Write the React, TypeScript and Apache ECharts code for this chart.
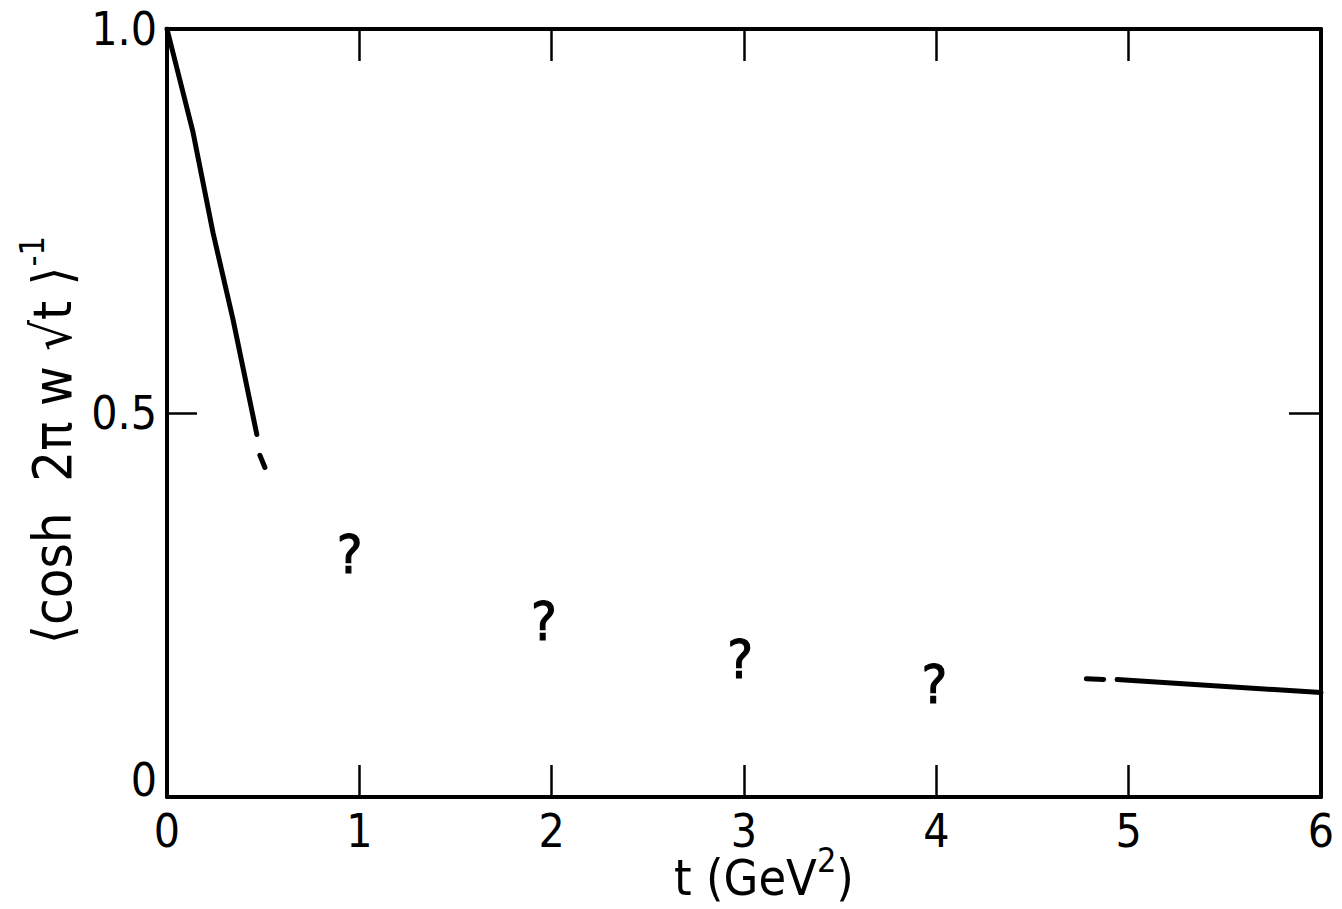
import React, { useEffect, useRef } from "react";
import * as echarts from "echarts";

const FONT = "'Liberation Sans Narrow', 'DejaVu Sans Condensed', 'Liberation Sans', sans-serif";

// Main solid curve near t = 0 (t, value)
const curveLowT: [number, number][] = [
  [0, 1.0],
  [0.135, 0.866],
  [0.239, 0.735],
  [0.343, 0.622],
  [0.467, 0.472],
];
// Dash continuing the low-t curve
const dashLowT: [number, number][] = [
  [0.483, 0.445],
  [0.509, 0.429],
];
// Dash preceding the high-t curve
const dashHighT: [number, number][] = [
  [4.78, 0.154],
  [4.87, 0.153],
];
// Solid curve at high t
const curveHighT: [number, number][] = [
  [4.94, 0.153],
  [6.0, 0.136],
];
// Unknown values marked with "?"
const unknownPoints: [number, number][] = [
  [0.95, 0.316],
  [1.96, 0.228],
  [2.98, 0.179],
  [3.99, 0.146],
];
const xTicks = [0, 1, 2, 3, 4, 5, 6];
const yTicks = [0, 0.5, 1.0];

export default function App() {
  const ref = useRef<HTMLDivElement>(null);
  useEffect(() => {
    if (!ref.current) return;
    const chart = echarts.init(ref.current, undefined, { renderer: "svg" });
    const lineStyle = { color: "#000", width: 5, cap: "round" as const };
    const axisLine = { show: true, onZero: false, lineStyle: { color: "#000", width: 4 } };
    const tick = { show: true, inside: true, length: 32, lineStyle: { color: "#000", width: 2.5 } };
    chart.setOption({
      animation: false,
      backgroundColor: "#fff",
      grid: { left: 167, right: 21, top: 29, bottom: 112, containLabel: false, outerBoundsMode: "none" },
      xAxis: [
        {
          type: "value",
          min: xTicks[0],
          max: xTicks[xTicks.length - 1],
          interval: 1,
          position: "bottom",
          axisLine,
          axisTick: tick,
          splitLine: { show: false },
          axisLabel: {
            show: true,
            margin: 14,
            fontFamily: FONT,
            fontSize: 46,
            lineHeight: 40,
            color: "#000",
            formatter: (v: number) => String(v),
          },
          name: "{m|t (GeV}{sup|2}{m|)}",
          nameLocation: "middle",
          nameGap: 46,
          nameMoveOverlap: false,
          nameTextStyle: {
            color: "#000",
            padding: [0, 0, 0, 40],
            rich: {
              m: { fontFamily: FONT, fontSize: 50, color: "#000", lineHeight: 60, verticalAlign: "bottom" },
              sup: { fontFamily: FONT, fontSize: 34, color: "#000", lineHeight: 60, verticalAlign: "top" },
            },
          },
        },
        {
          type: "value",
          min: xTicks[0],
          max: xTicks[xTicks.length - 1],
          interval: 1,
          position: "top",
          axisLine,
          axisTick: tick,
          splitLine: { show: false },
          axisLabel: { show: false },
        },
      ],
      yAxis: [
        {
          type: "value",
          min: yTicks[0],
          max: yTicks[yTicks.length - 1],
          interval: 0.5,
          position: "left",
          axisLine,
          axisTick: { ...tick, length: 30 },
          splitLine: { show: false },
          axisLabel: {
            show: true,
            margin: 10,
            fontFamily: FONT,
            fontSize: 46,
            color: "#000",
            formatter: (v: number) => (v === 0 ? "{z|0}" : v.toFixed(1)),
            rich: {
              z: { fontFamily: FONT, fontSize: 46, color: "#000", padding: [0, 0, 34, 0] },
            },
          },
        },
        {
          type: "value",
          min: yTicks[0],
          max: yTicks[yTicks.length - 1],
          interval: 0.5,
          position: "right",
          axisLine,
          axisTick: { ...tick, length: 32 },
          splitLine: { show: false },
          axisLabel: { show: false },
        },
      ],
      graphic: [
        {
          type: "text",
          x: 47,
          y: 440,
          rotation: Math.PI / 2,
          style: {
            text: "{m|⟨cosh  2π w √t ⟩}{sup|-1}",
            fill: "#000",
            align: "center",
            verticalAlign: "middle",
            rich: {
              m: { fontFamily: FONT, fontSize: 54, fill: "#000", lineHeight: 64, verticalAlign: "bottom" },
              sup: { fontFamily: FONT, fontSize: 34, fill: "#000", lineHeight: 64, verticalAlign: "top" },
            },
          },
        },
      ],
      series: [
        { type: "line", data: curveLowT, symbol: "none", lineStyle },
        { type: "line", data: dashLowT, symbol: "none", lineStyle },
        { type: "line", data: dashHighT, symbol: "none", lineStyle },
        { type: "line", data: curveHighT, symbol: "none", lineStyle },
        {
          type: "scatter",
          data: unknownPoints,
          symbolSize: 0,
          itemStyle: { color: "#000", opacity: 1 },
          emphasis: { disabled: true },
          label: {
            show: true,
            position: "inside",
            formatter: "?",
            fontFamily: FONT,
            fontSize: 54,
            color: "#000",
            opacity: 1,
            textBorderColor: "#000",
            textBorderWidth: 1.2,
          },
        },
      ],
    });
    return () => chart.dispose();
  }, []);
  return (
    <div
      ref={ref}
      style={{ position: "fixed", left: 0, top: 0, width: 1342, height: 909, background: "#fff" }}
    />
  );
}
